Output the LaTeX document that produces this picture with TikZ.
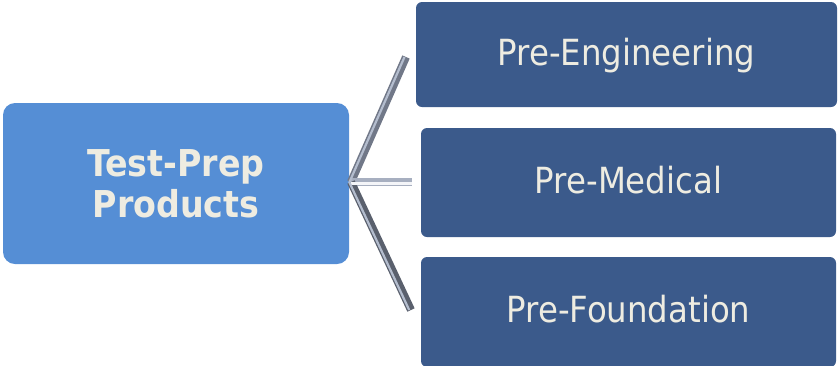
\documentclass[tikz,border=0pt]{standalone}
\usepackage{fontspec}
\setmainfont{DejaVu Sans Condensed}
\begin{document}
\begin{tikzpicture}[x=1pt,y=-1pt]
\definecolor{hubblue}{HTML}{558ED5}
\definecolor{leafblue}{HTML}{3B5A8B}
\definecolor{txtcream}{HTML}{EEECE1}
\definecolor{connout}{HTML}{717888}
\definecolor{connin}{HTML}{B4BDCE}
\tikzset{
  hubbox/.style={fill=hubblue, rounded corners=12pt, inner sep=0pt,
    minimum width=346pt, minimum height=161pt, text=txtcream,
    font=\bfseries\fontsize{37}{41}\selectfont, align=center},
  leafbox/.style={fill=leafblue, rounded corners=6pt, inner sep=0pt,
    text=txtcream, font=\fontsize{36}{41}\selectfont,
    text height=26pt, text depth=5pt},
  connline/.style={line width=8pt, draw=connout, line cap=butt},
  connhi/.style={line width=2.2pt, draw=connin, line cap=butt}
}
\useasboundingbox (0,0) rectangle (838,365);
\node[hubbox] (hub) at (176,183.5) {Test-Prep\\Products};
\node[leafbox, minimum width=421pt, minimum height=105pt] (eng) at (626.5,54.5) {Pre-Engineering};
\node[leafbox, minimum width=415pt, minimum height=109pt] (med) at (628.5,182.5) {Pre-Medical};
\node[leafbox, minimum width=415pt, minimum height=110pt] (fnd) at (628.5,312) {Pre-Foundation};
\coordinate (s) at (351,182);
\coordinate (e1) at (406,57);
\coordinate (e2) at (412,182);
\coordinate (e3) at (411,310);
\draw[connline] (s) -- (e1);
\draw[connline, draw=connin!80!connout] (s) -- (e2);
\draw[connline, draw=connout!80!black] (s) -- (e3);
\draw[connhi] ([xshift=-1.5pt]s) -- ([xshift=-1.5pt]e1);
\draw[connhi, draw=white!85!connin] ([yshift=-1.5pt]s) -- ([yshift=-1.5pt]e2);
\draw[connhi] ([xshift=-1.8pt]s) -- ([xshift=-1.8pt]e3);
\end{tikzpicture}
\end{document}
